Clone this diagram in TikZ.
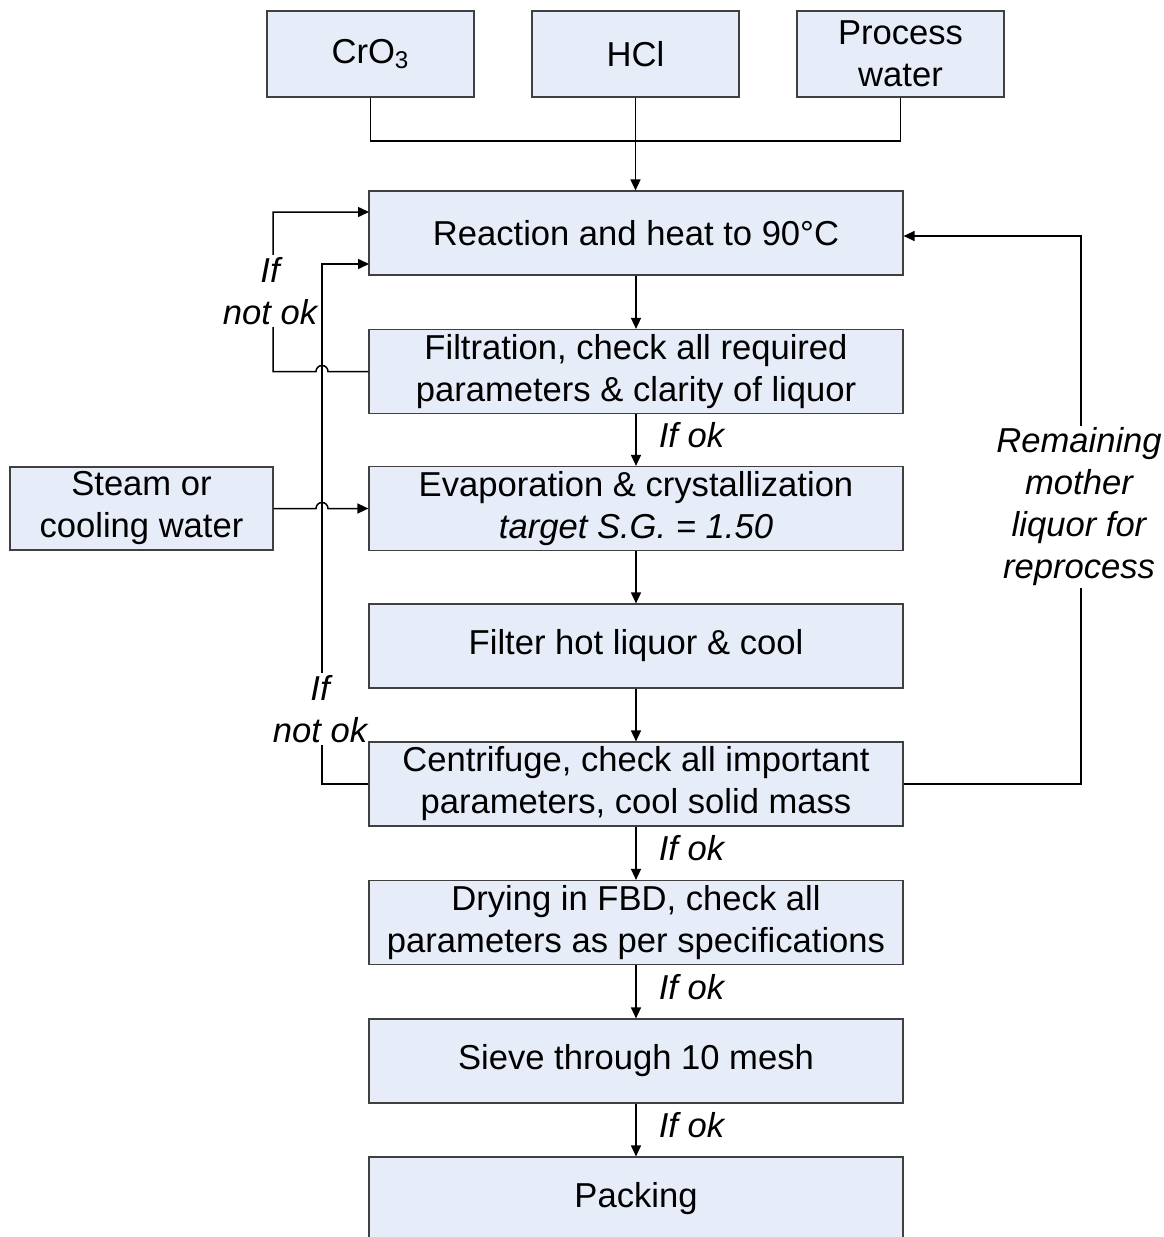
\documentclass[tikz,border=0pt]{standalone}
\usepackage{fontspec}
\setmainfont{Liberation Sans}
\usetikzlibrary{arrows.meta}
\definecolor{boxfill}{RGB}{230,237,248}
\definecolor{boxline}{RGB}{64,64,64}
\newcommand{\txt}{\fontsize{17.3}{21}\selectfont}
\tikzset{
    stage/.style={
        draw=boxline,
        fill=boxfill,
        line width=0.6pt,
        minimum width=267pt,
        minimum height=42pt,
        inner sep=0pt,
        align=center,
        font=\txt
    },
    feed/.style={stage,minimum width=103.5pt,minimum height=43pt},
    flow/.style={line width=0.75pt,-{Triangle[length=5.5pt,width=5pt]}},
    link/.style={line width=0.75pt},
    note/.style={fill=white,inner xsep=0pt,inner ysep=1pt,align=center,font=\txt\itshape},
    okay/.style={anchor=west,xshift=10pt,yshift=2.5pt,inner sep=1pt,font=\txt\itshape}
}

\begin{document}
\begin{tikzpicture}[x=0.5pt,y=-0.5pt]
    \useasboundingbox (0,0) rectangle (1163,1237);
    \clip (0,0) rectangle (1163,1237);
    % feeds
    \node[feed] (cro) at (370.5,54) {CrO\textsubscript{3}};
    \node[feed] (hcl) at (635.5,54) {HCl};
    \node[feed] (water) at (900.5,54) {Process\\water};
    \node[stage,minimum width=131.5pt,minimum height=41.5pt] (steam) at (141.5,508.5) {Steam or\\cooling water};
    % main column
    \node[stage] (react) at (636,233) {Reaction and heat to 90°C};
    \node[stage] (filt) at (636,371.5) {Filtration, check all required\\parameters \& clarity of liquor};
    \node[stage] (evap) at (636,508.5) {Evaporation \& crystallization\\\textit{target S.G. = 1.50}};
    \node[stage] (hot) at (636,646) {Filter hot liquor \& cool};
    \node[stage] (centri) at (636,784) {Centrifuge, check all important\\parameters, cool solid mass};
    \node[stage] (dry) at (636,922.5) {Drying in FBD, check all\\parameters as per specifications};
    \node[stage] (sieve) at (636,1061) {Sieve through 10 mesh};
    \node[stage] (pack) at (636,1199) {Packing};
    \coordinate (in1) at (369,212);
    \coordinate (in2) at (369,264);

    % feeds into reaction
    \draw[link] (cro.south) |- (635.5,141) -| (water.south);
    \draw[flow] (hcl.south) -- (react.north -| hcl.south);

    % down the column
    \draw[flow] (react) -- (filt);
    \draw[flow] (filt) -- node[okay] {If ok} (evap);
    \draw[flow] (evap) -- (hot);
    \draw[flow] (hot) -- (centri);
    \draw[flow] (centri) -- node[okay] {If ok} (dry);
    \draw[flow] (dry) -- node[okay] {If ok} (sieve);
    \draw[flow] (sieve) -- node[okay] {If ok} (pack);

    % recycle loops
    \draw[flow] (centri.west) -- (322,784) -- (322,264) -- (in2);
    \node[note] (nok2) at (320,709) {If\\not ok};
    \draw[flow] (filt.west) -- (328,371.5) arc[start angle=0,end angle=180,radius=3pt]
        -- (273,371.5) -- (273,212) -- (in1);
    \node[note] (nok1) at (270,291) {If\\not ok};
    \draw[flow] (steam.east) -- (316,508.5) arc[start angle=180,end angle=0,radius=3pt]
        -- (evap.west);
    \draw[flow] (centri.east) -- (1081,784) -- (1081,236) -- (react.east |- 0,236);
    \node[note] (mother) at (1079,507) {Remaining\\mother\\liquor for\\reprocess};
\end{tikzpicture}
\end{document}
